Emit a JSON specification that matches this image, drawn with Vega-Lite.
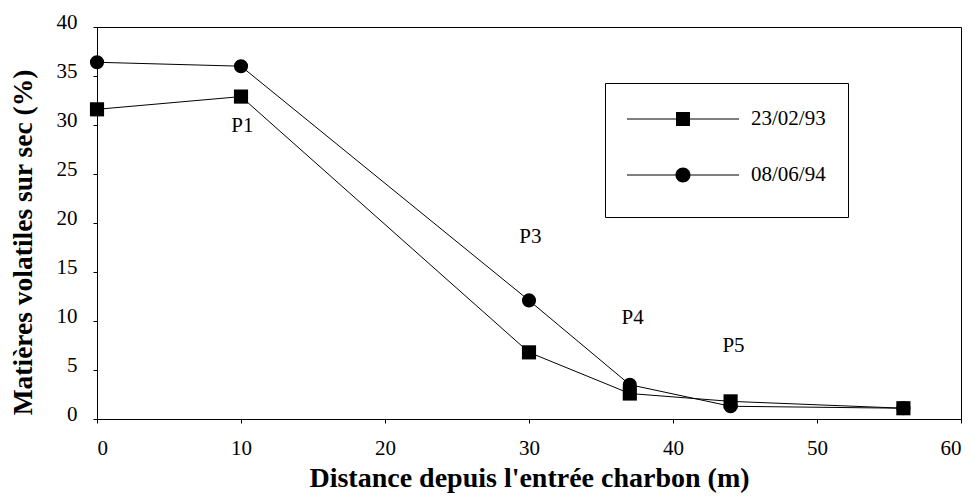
{
  "$schema": "https://vega.github.io/schema/vega-lite/v6.json",
  "width": 864,
  "height": 392,
  "autosize": {"type": "none"},
  "padding": {"left": 97, "top": 27, "right": 11, "bottom": 85},
  "background": "white",
  "datasets": {
    "pts": [
      {"series": "08/06/94", "dist": 0, "mv": 36.4},
      {"series": "08/06/94", "dist": 10, "mv": 36.0},
      {"series": "08/06/94", "dist": 30, "mv": 12.1},
      {"series": "08/06/94", "dist": 37, "mv": 3.5},
      {"series": "08/06/94", "dist": 44, "mv": 1.3},
      {"series": "08/06/94", "dist": 56, "mv": 1.1},
      {"series": "23/02/93", "dist": 0, "mv": 31.6},
      {"series": "23/02/93", "dist": 10, "mv": 32.9},
      {"series": "23/02/93", "dist": 30, "mv": 6.8},
      {"series": "23/02/93", "dist": 37, "mv": 2.6},
      {"series": "23/02/93", "dist": 44, "mv": 1.8},
      {"series": "23/02/93", "dist": 56, "mv": 1.1}
    ],
    "labels": [
      {"name": "P1", "dist": 10.1, "mv": 29.9},
      {"name": "P3", "dist": 30.1, "mv": 18.6},
      {"name": "P4", "dist": 37.2, "mv": 10.3},
      {"name": "P5", "dist": 44.2, "mv": 7.4}
    ]
  },
  "config": {
    "font": "Liberation Serif",
    "view": {"stroke": "black", "strokeWidth": 1},
    "axis": {
      "grid": false,
      "domainColor": "black",
      "tickColor": "black",
      "tickSize": 4,
      "labelColor": "black",
      "titleColor": "black",
      "labelFont": "Liberation Serif",
      "labelFontSize": 21,
      "titleFont": "Liberation Serif",
      "titleFontWeight": "bold"
    }
  },
  "resolve": {"scale": {"shape": "independent"}, "legend": {"shape": "independent"}},
  "layer": [
    {
      "data": {"name": "pts"},
      "mark": {"type": "line", "color": "black", "strokeWidth": 1},
      "encoding": {
        "x": {"field": "dist", "type": "quantitative", "scale": {"domain": [0, 60], "nice": false},
          "axis": {"values": [0, 10, 20, 30, 40, 50, 60], "title": "Distance depuis l'entrée charbon (m)", "titleFontSize": 28, "labelPadding": 14, "titlePadding": 6}},
        "y": {"field": "mv", "type": "quantitative", "scale": {"domain": [0, 40], "nice": false},
          "axis": {"values": [0, 5, 10, 15, 20, 25, 30, 35, 40], "title": "Matières volatiles sur sec (%)", "titleFontSize": 27.5, "labelPadding": 16, "labelOffset": -5, "titlePadding": 19, "titleY": 215}},
        "detail": {"field": "series"},
        "order": {"field": "dist"}
      }
    },
    {
      "data": {"name": "pts"},
      "mark": {"type": "point", "filled": true, "color": "black", "opacity": 1, "size": 200},
      "encoding": {
        "x": {"field": "dist", "type": "quantitative"},
        "y": {"field": "mv", "type": "quantitative"},
        "shape": {"field": "series", "type": "nominal", "scale": {"domain": ["08/06/94", "23/02/93"], "range": ["circle", "square"]}, "legend": null}
      }
    },
    {
      "data": {"name": "labels"},
      "mark": {"type": "text", "font": "Liberation Serif", "fontSize": 21, "color": "black", "align": "center", "baseline": "middle"},
      "encoding": {
        "x": {"field": "dist", "type": "quantitative"},
        "y": {"field": "mv", "type": "quantitative"},
        "text": {"field": "name"}
      }
    },
    {
      "data": {"name": "pts"},
      "mark": {"type": "point", "filled": true, "color": "black", "opacity": 0},
      "encoding": {
        "x": {"field": "dist", "type": "quantitative"},
        "y": {"field": "mv", "type": "quantitative"},
        "shape": {"field": "series", "type": "nominal",
          "scale": {"domain": ["23/02/93", "08/06/94"],
            "range": [
              "M-4,-0.036H-0.5V0.036H-4Z M0.5,-0.036H4V0.036H0.5Z M-0.5,-0.5H0.5V0.5H-0.5Z",
              "M-4,-0.036H-0.5V0.036H-4Z M0.5,-0.036H4V0.036H0.5Z M0.536,0A0.536,0.536,0,1,1,-0.536,0A0.536,0.536,0,1,1,0.536,0Z"
            ]},
          "legend": {
            "orient": "none",
            "legendX": 508,
            "legendY": 56,
            "title": " ",
            "titleOrient": "bottom",
            "titleFontSize": 8,
            "titlePadding": 2,
            "padding": 22,
            "strokeColor": "black",
            "fillColor": "white",
            "labelFont": "Liberation Serif",
            "labelFontSize": 21,
            "labelColor": "black",
            "labelOffset": 54,
            "symbolOffset": 42,
            "symbolSize": 784,
            "symbolOpacity": 1,
            "symbolFillColor": "black",
            "symbolStrokeWidth": 0,
            "rowPadding": 32
          }
        }
      }
    }
  ]
}
